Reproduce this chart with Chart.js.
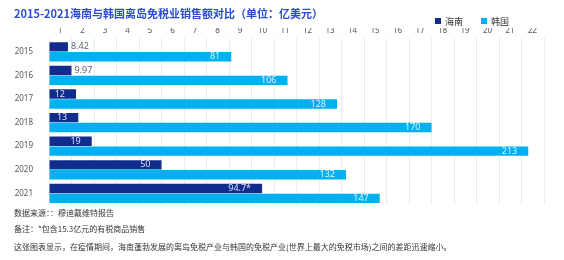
<!DOCTYPE html>
<html>
<head>
<meta charset="utf-8">
<script src="https://cdn.jsdelivr.net/npm/chart.js@4/dist/chart.umd.min.js"></script>
<style>
  html, body { margin: 0; padding: 0; background: #fff; }
  body { width: 564px; height: 260px; position: relative; overflow: hidden;
         font-family: "Noto Sans CJK SC", "Noto Sans", sans-serif; }
  .title { position: absolute; left: 14px; top: 5px; font-size: 11px; font-weight: bold;
           color: #2a4bd4; white-space: nowrap; }
  .legend { position: absolute; left: 435px; top: 15px; font-size: 9px; color: #333;
            white-space: nowrap; }
  .legend span.item { margin-right: 18px; }
  .legend i { display: inline-block; width: 6px; height: 6px; margin-right: 4px;
              vertical-align: 1px; }
  .chart-box { position: absolute; left: 0; top: 0; width: 564px; height: 226px; }
  .note { position: absolute; left: 14px; font-size: 8px; color: #333; white-space: nowrap; }
</style>
</head>
<body>
<div class="chart-box"><canvas id="dutyFreeChart" width="564" height="226"></canvas></div>
<div class="title">2015-2021海南与韩国离岛免税业销售额对比（单位：亿美元）</div>
<div class="legend" id="legend"></div>
<div class="note" style="top:207px">数据来源：：穆迪戴维特报告</div>
<div class="note" style="top:223px">备注：*包含15.3亿元的有税商品销售</div>
<div class="note" style="top:241px">这张图表显示，在疫情期间，海南蓬勃发展的离岛免税产业与韩国的免税产业(世界上最大的免税市场)之间的差距迅速缩小。</div>

<script>
// ---- data ----
const years = ["2015", "2016", "2017", "2018", "2019", "2020", "2021"];
const hainanSales = [8.42, 9.97, 12, 13, 19, 50, 94.7];
const koreaSales = [81, 106, 128, 170, 213, 132, 147];
const hainanMarks = ["", "", "", "", "", "", "*"];
const topTickLabels = ["1", "2", "3", "4", "5", "6", "7", "8", "9", "10", "11",
  "12", "13", "14", "15", "16", "17", "18", "19", "20", "21", "22"];

const navy = "#0f2c8e";
const skyBlue = "#00b0f0";

// Draw value labels on the bars (inside at the end, or just outside when too short)
const barLabels = {
  id: "barLabels",
  afterDatasetsDraw(chart) {
    const ctx = chart.ctx;
    ctx.save();
    ctx.font = "9px 'Noto Sans', sans-serif";
    ctx.textBaseline = "middle";
    chart.data.datasets.forEach((ds, di) => {
      const meta = chart.getDatasetMeta(di);
      meta.data.forEach((bar, i) => {
        const text = String(ds.data[i]) + (ds.marks ? ds.marks[i] : "");
        const w = ctx.measureText(text).width;
        const barLen = bar.x - bar.base;
        if (barLen > w + 16) {
          ctx.fillStyle = "rgba(255,255,255,0.85)";
          ctx.textAlign = "right";
          ctx.fillText(text, bar.x - 11, bar.y);
        } else {
          ctx.fillStyle = "#5a6478";
          ctx.textAlign = "left";
          ctx.fillText(text, bar.x + 3, bar.y);
        }
      });
    });
    ctx.restore();
  },
};

const chart = new Chart(document.getElementById("dutyFreeChart"), {
  type: "bar",
  data: {
    labels: years,
    datasets: [
      {
        label: "海南",
        data: hainanSales,
        marks: hainanMarks,
        backgroundColor: navy,
        barPercentage: 0.95,
        categoryPercentage: 0.84,
      },
      {
        label: "韩国",
        data: koreaSales,
        backgroundColor: skyBlue,
        barPercentage: 0.95,
        categoryPercentage: 0.84,
      },
    ],
  },
  options: {
    indexAxis: "y",
    responsive: false,
    animation: false,
    layout: { padding: { top: 28, right: 20, bottom: 7, left: 0 } },
    plugins: {
      legend: { display: false },
      tooltip: { enabled: false },
    },
    scales: {
      x: {
        position: "top",
        min: 0,
        max: 220,
        border: { display: false },
        grid: { color: "#ececec", lineWidth: 1, drawTicks: true, tickLength: 2 },
        ticks: {
          stepSize: 10,
          padding: 2,
          labelOffset: 11,
          color: "#555",
          font: { size: 8, family: "'Noto Sans', sans-serif" },
          callback: (v, i) => topTickLabels[i] ?? "",
        },
        afterFit: (scale) => { scale.height = 12; },
      },
      y: {
        border: { display: false },
        grid: { display: false, drawTicks: false },
        ticks: {
          padding: 16,
          color: "#555",
          font: { size: 8, family: "'Noto Sans', sans-serif" },
        },
        afterFit: (scale) => { scale.width = 49; },
      },
    },
  },
  plugins: [barLabels],
});

// Legend built from the chart's datasets
const legendEl = document.getElementById("legend");
chart.data.datasets.forEach((ds) => {
  const item = document.createElement("span");
  item.className = "item";
  const box = document.createElement("i");
  box.style.background = ds.backgroundColor;
  item.appendChild(box);
  item.appendChild(document.createTextNode(ds.label));
  legendEl.appendChild(item);
});
</script>
</body>
</html>
